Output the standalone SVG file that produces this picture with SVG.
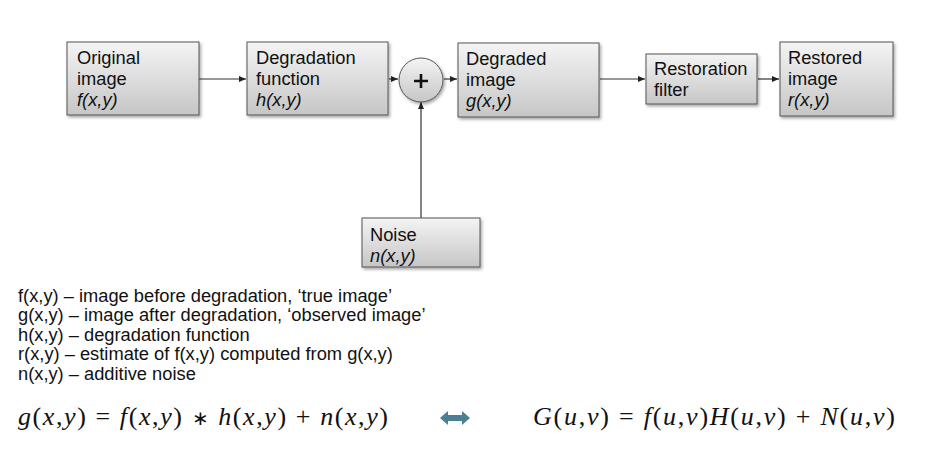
<svg xmlns="http://www.w3.org/2000/svg" width="941" height="449" viewBox="0 0 941 449">
<defs>
<linearGradient id="g" x1="0" y1="0" x2="0" y2="1">
<stop offset="0" stop-color="#f4f4f4"/>
<stop offset="1" stop-color="#c6c6c6"/>
</linearGradient>
<filter id="sh" x="-10%" y="-10%" width="130%" height="140%">
<feDropShadow dx="1.5" dy="2" stdDeviation="1.5" flood-color="#000" flood-opacity="0.35"/>
</filter>
<marker id="ah" markerWidth="8" markerHeight="8" refX="7" refY="4" orient="auto" markerUnits="userSpaceOnUse">
<path d="M0,1 L7,4 L0,7 Z" fill="#222"/>
</marker>
</defs>
<style>
.box{fill:url(#g);stroke:#555;stroke-width:1;filter:url(#sh)}
.lbl{font-family:"Liberation Sans",Arial,sans-serif;font-size:18.3px;fill:#111}
.it{font-style:italic}
.con{stroke:#333;stroke-width:1.2;fill:none}
.desc{font-family:"Liberation Sans",Arial,sans-serif;font-size:18.3px;fill:#111}
.math{font-family:"Liberation Serif","Times New Roman",serif;font-size:26px;fill:#111}
.i{font-style:italic}
</style>
<rect width="941" height="449" fill="#fff"/>
<g id="connectors">
<line class="con" x1="199" y1="79" x2="246" y2="79" marker-end="url(#ah)"/>
<line class="con" x1="389" y1="79" x2="398" y2="79" marker-end="url(#ah)"/>
<line class="con" x1="444" y1="79" x2="457" y2="79" marker-end="url(#ah)"/>
<line class="con" x1="600" y1="79" x2="645" y2="79" marker-end="url(#ah)"/>
<line class="con" x1="758" y1="79" x2="779" y2="79" marker-end="url(#ah)"/>
<line class="con" x1="421" y1="218" x2="421" y2="102" marker-end="url(#ah)"/>
</g>
<g id="original">
<rect class="box" x="67" y="42" width="132" height="73"/>
<text class="lbl" x="77" y="64">Original</text>
<text class="lbl" x="77" y="85">image</text>
<text class="lbl it" x="77" y="106">f(x,y)</text>
</g>
<g id="degfunc">
<rect class="box" x="247" y="42" width="141" height="73"/>
<text class="lbl" x="256" y="64">Degradation</text>
<text class="lbl" x="256" y="85">function</text>
<text class="lbl it" x="256" y="106">h(x,y)</text>
</g>
<g id="sum">
<circle cx="421" cy="80" r="22" fill="url(#g)" stroke="#555" stroke-width="1" filter="url(#sh)"/>
<path d="M414,81 H428 M421,74 V88" stroke="#111" stroke-width="2.6" fill="none"/>
</g>
<g id="degraded">
<rect class="box" x="458" y="43" width="141" height="74"/>
<text class="lbl" x="466" y="65">Degraded</text>
<text class="lbl" x="466" y="86">image</text>
<text class="lbl it" x="466" y="107">g(x,y)</text>
</g>
<g id="restfilter">
<rect class="box" x="646" y="54" width="111" height="50"/>
<text class="lbl" x="654" y="75">Restoration</text>
<text class="lbl" x="654" y="96">filter</text>
</g>
<g id="restored">
<rect class="box" x="780" y="42" width="113" height="74"/>
<text class="lbl" x="788" y="64">Restored</text>
<text class="lbl" x="788" y="85">image</text>
<text class="lbl it" x="788" y="106">r(x,y)</text>
</g>
<g id="noise">
<rect class="box" x="362" y="218" width="118" height="49"/>
<text class="lbl" x="370" y="241">Noise</text>
<text class="lbl it" x="370" y="262">n(x,y)</text>
</g>
<g id="legend">
<text class="desc" x="18" y="302">f(x,y) – image before degradation, ‘true image’</text>
<text class="desc" x="18" y="321">g(x,y) – image after degradation, ‘observed image’</text>
<text class="desc" x="18" y="341">h(x,y) – degradation function</text>
<text class="desc" x="18" y="360">r(x,y) – estimate of f(x,y) computed from g(x,y)</text>
<text class="desc" x="18" y="380">n(x,y) – additive noise</text>
</g>
<g id="equations">
<text class="math" x="18" y="425" textLength="370" lengthAdjust="spacing"><tspan class="i">g</tspan>(<tspan class="i">x</tspan>,<tspan class="i">y</tspan>) = <tspan class="i">f</tspan>(<tspan class="i">x</tspan>,<tspan class="i">y</tspan>) <tspan font-size="20">∗</tspan> <tspan class="i">h</tspan>(<tspan class="i">x</tspan>,<tspan class="i">y</tspan>) + <tspan class="i">n</tspan>(<tspan class="i">x</tspan>,<tspan class="i">y</tspan>)</text>
<path d="M440,418 L448,411 L448,415 L462,415 L462,411 L470,418 L462,425 L462,421 L448,421 L448,425 Z" fill="#4b7f92"/>
<text class="math" x="533" y="425" textLength="362" lengthAdjust="spacing"><tspan class="i">G</tspan>(<tspan class="i">u</tspan>,<tspan class="i">v</tspan>) = <tspan class="i">f</tspan>(<tspan class="i">u</tspan>,<tspan class="i">v</tspan>)<tspan class="i">H</tspan>(<tspan class="i">u</tspan>,<tspan class="i">v</tspan>) + <tspan class="i">N</tspan>(<tspan class="i">u</tspan>,<tspan class="i">v</tspan>)</text>
</g>
</svg>
